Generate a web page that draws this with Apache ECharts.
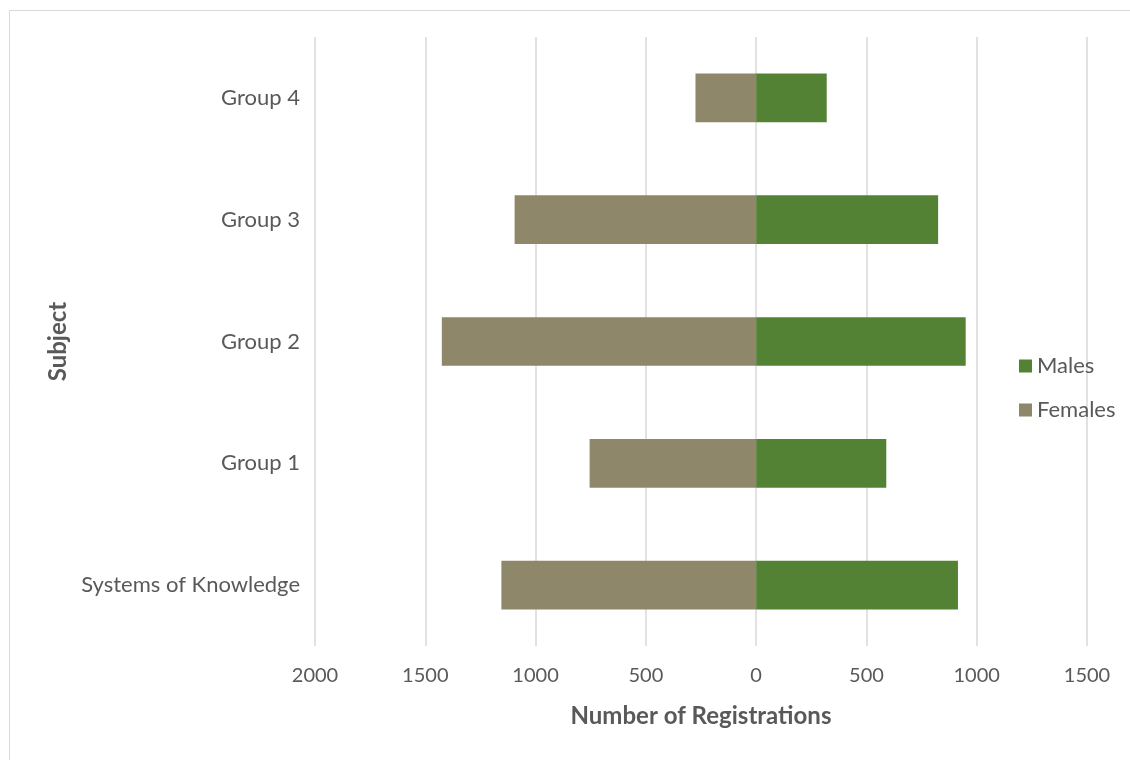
<!DOCTYPE html>
<html>
<head>
<meta charset="utf-8">
<script src="https://cdn.jsdelivr.net/npm/echarts@6/dist/echarts.min.js"></script>
<style>
html,body{margin:0;padding:0;background:#fff;}
#chart{width:1130px;height:760px;}
</style>
</head>
<body>
<div id="chart"></div>
<script>
const categories = ['Systems of Knowledge', 'Group 1', 'Group 2', 'Group 3', 'Group 4'];
const males = [915, 590, 950, 825, 320];
const females = [1155, 755, 1425, 1095, 275];
const xTicks = { min: -2000, max: 1500, interval: 500 };

const FONT = 'Lato, "Open Sans", sans-serif';
const TXT = '#595959';

const chart = echarts.init(document.getElementById('chart'), null, { renderer: 'canvas' });
chart.setOption({
  animation: false,
  backgroundColor: '#fff',
  textStyle: { fontFamily: FONT },
  graphic: [{
    type: 'rect', left: 7, top: 8, silent: true,
    shape: { width: 1140, height: 770 },
    style: { fill: 'none', stroke: '#d9d9d9', lineWidth: 1 }
  }],
  grid: { left: 315, right: 43, top: 37, bottom: 114, containLabel: false },
  legend: {
    orient: 'vertical', left: 1014, top: 350,
    itemWidth: 13, itemHeight: 13, itemGap: 22,
    icon: 'rect',
    data: ['Males', 'Females'],
    textStyle: { color: TXT, fontSize: 22, fontFamily: FONT }
  },
  xAxis: {
    type: 'value', min: xTicks.min, max: xTicks.max, interval: xTicks.interval,
    name: 'Number of Registrations', nameLocation: 'middle', nameGap: 58,
    nameTextStyle: { color: TXT, fontSize: 24, fontWeight: 'bold', fontFamily: FONT },
    axisLine: { show: false }, axisTick: { show: false },
    axisLabel: { color: TXT, fontSize: 20, margin: 20, fontFamily: FONT, formatter: v => String(Math.abs(v)) },
    splitLine: { show: true, lineStyle: { color: '#d9d9d9', width: 1.5 } }
  },
  yAxis: {
    type: 'category', data: categories,
    name: 'Subject', nameLocation: 'middle', nameGap: 245, nameRotate: 90,
    nameTextStyle: { color: TXT, fontSize: 24, fontWeight: 'bold', fontFamily: FONT },
    axisLine: { show: false }, axisTick: { show: false },
    axisLabel: { color: TXT, fontSize: 22, margin: 15, fontFamily: FONT },
    splitLine: { show: false }
  },
  series: [
    {
      name: 'Females', type: 'bar', barWidth: '40%', barGap: '-100%',
      itemStyle: { color: '#8F8769' },
      data: females.map(v => -v)
    },
    {
      name: 'Males', type: 'bar', barWidth: '40%', barGap: '-100%',
      itemStyle: { color: '#548235' },
      data: males
    }
  ]
});
</script>
</body>
</html>
